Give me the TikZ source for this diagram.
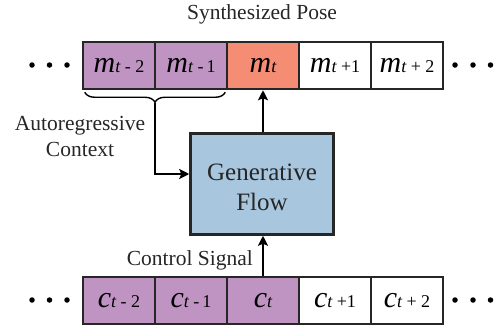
\documentclass[tikz,border=0pt]{standalone}
\usepackage{fontspec}
\setmainfont{Liberation Serif}
\usetikzlibrary{decorations.pathreplacing,arrows.meta}
\definecolor{cpurple}{HTML}{BF94C3}
\definecolor{corange}{HTML}{F58D74}
\definecolor{cblue}{HTML}{A8C6DD}
\newcommand{\seqsym}[2]{{\fontsize{30}{30}\selectfont\itshape #1}{\fontsize{18}{18}\selectfont\itshape t\upshape#2}}
\begin{document}
\begin{tikzpicture}[x=1pt,y=-1pt,
  cell/.style={draw=black!85, line width=2.5pt, minimum width=72pt, minimum height=47pt, inner sep=0pt, anchor=center},
  dot/.style={circle, fill=black, inner sep=0pt, minimum size=5.5pt},
  lbl/.style={font=\fontsize{21.5}{26}\selectfont, inner sep=0pt, text=black!85},
  conn/.style={line width=2.5pt, -{Stealth[length=10pt,width=10pt,inset=2pt]}}
]
\useasboundingbox (0,0) rectangle (495,333);
% top row
\node[cell, fill=cpurple] (m1) at (119,65.5) {\seqsym{m}{\ -\ 2}};
\node[cell, fill=cpurple] (m2) at (191,65.5) {\seqsym{m}{\ -\,1}};
\node[cell, fill=corange] (m3) at (263,65.5) {\seqsym{m}{}};
\node[cell, fill=white] (m4) at (335,65.5) {\seqsym{m}{\ +1}};
\node[cell, fill=white] (m5) at (407,65.5) {\seqsym{m}{\ +\ 2}};
% bottom row
\node[cell, fill=cpurple] (c1) at (119,300.5) {\seqsym{c}{\ -\ 2}};
\node[cell, fill=cpurple] (c2) at (191,300.5) {\seqsym{c}{\ -\,1}};
\node[cell, fill=cpurple] (c3) at (263,300.5) {\seqsym{c}{}};
\node[cell, fill=white] (c4) at (335,300.5) {\seqsym{c}{\ +1}};
\node[cell, fill=white] (c5) at (407,300.5) {\seqsym{c}{\ +\ 2}};
% dots
\foreach \r/\y in {m/65, c/300} {
  \node[dot] (\r l1) at (32,\y) {};
  \node[dot] (\r l2) at (49.5,\y) {};
  \node[dot] (\r l3) at (67,\y) {};
  \node[dot] (\r r1) at (455,\y) {};
  \node[dot] (\r r2) at (473,\y) {};
  \node[dot] (\r r3) at (490.5,\y) {};
}
% generative flow
\node[draw=black!85, line width=2.5pt, fill=cblue, minimum width=143pt, minimum height=101pt, inner sep=0pt] (gen) at (262,184) {};
\node[align=center, font=\fontsize{25}{30}\selectfont, inner sep=0pt, text=black!85] (gentext) at (262,187) {Generative\\Flow};
% labels
\node[lbl] (title) at (262,14) {Synthesized Pose};
\node[lbl, align=center] (ctx) at (80,136) {Autoregressive\\Context};
\node[lbl, anchor=base east] (ctrl) at (253,265) {Control Signal};
% brace
\draw[line width=1.4pt, decorate, decoration={brace, mirror, amplitude=10pt}]
  ([xshift=3pt,yshift=-2pt]m1.south west) -- ([xshift=-3pt,yshift=-2pt]m2.south east)
  coordinate[midway, yshift=-11pt] (btip);
\coordinate (bend) at (btip |- 0,174);
\draw[conn] (btip) -- (bend) -- (bend -| gen.west);
% arrows
\draw[conn] (gen.north -| m3.south) -- (m3.south);
\draw[conn] (c3.north) -- (gen.south -| c3.north);
\end{tikzpicture}
\end{document}
